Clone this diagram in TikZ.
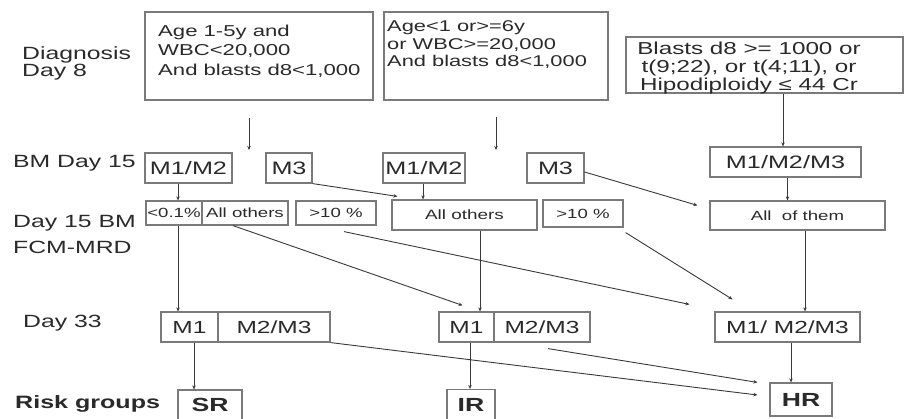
\documentclass[tikz,border=0pt]{standalone}
\usepackage{fontspec}
\setmainfont{Liberation Sans}[FakeStretch=1.4]
\usetikzlibrary{arrows.meta,calc}
\definecolor{txt}{HTML}{2A2A2A}
\definecolor{bx}{HTML}{7A7A7A}
\definecolor{ln}{HTML}{3A3A3A}
\newcommand{\fsz}[2]{\fontsize{#1}{#2}\selectfont}
\tikzset{
  box/.style={draw=bx, line width=1.2pt, inner sep=0pt, text=txt},
  lbl/.style={text=txt, inner sep=0pt, anchor=west, align=left},
  conn/.style={draw=ln, line width=0.9pt, -{Stealth[length=4pt,width=3.5pt]}},
}
\begin{document}
\begin{tikzpicture}[x=1pt,y=-1pt]
\path[use as bounding box, fill=white] (0,0) rectangle (912,419);

% row labels
\node[lbl, font=\fsz{17.7}{17}] (Ldiag) at (22,63) {Diagnosis\\Day 8};
\node[lbl, font=\fsz{17.7}{17}] (Lbm) at (13,163) {BM Day 15};
\node[lbl, font=\fsz{17.7}{26}] (Lfcm) at (13,234) {Day 15 BM\\FCM-MRD};
\node[lbl, font=\fsz{17.7}{17}] (Ld33) at (23,323) {Day 33};
\node[lbl, font=\fsz{17.9}{18}\bfseries] (Lrisk) at (15,404) {Risk groups};

% diagnosis boxes
\node[box, minimum width=228pt, minimum height=88pt] (b1) at (259,56) {};
\node[lbl, font=\fsz{15.8}{19.5}] (t1) at (158,51) {Age 1-5y and\\WBC<20,000\\And blasts d8<1,000};
\node[box, minimum width=224pt, minimum height=88pt] (b2) at (496,56) {};
\node[lbl, font=\fsz{15.6}{17.5}] (t2) at (387,45) {Age<1 or>=6y\\or WBC>=20,000\\And blasts d8<1,000};
\node[box, minimum width=277pt, minimum height=56pt] (b3) at (764.5,65) {};
\node[text=txt, inner sep=0pt, align=center, font=\fsz{17.3}{17.8}] (t3) at (749,68) {Blasts d8 >= 1000 or\\ t(9;22), or t(4;11), or\\Hipodiploidy ≤ 44 Cr};

% BM day 15
\node[box, minimum width=87pt, minimum height=30pt, font=\fsz{18}{18}] (m12a) at (188.5,168) {M1/M2};
\node[box, minimum width=46pt, minimum height=30pt, font=\fsz{18}{18}] (m3a) at (289,168) {M3};
\node[box, minimum width=82pt, minimum height=30pt, font=\fsz{18}{18}] (m12b) at (424,168) {M1/M2};
\node[box, minimum width=57pt, minimum height=30pt, font=\fsz{18}{18}] (m3b) at (555.5,168) {M3};
\node[box, minimum width=151pt, minimum height=30pt, font=\fsz{18}{18}] (m123) at (785.5,162) {M1/M2/M3};

% FCM-MRD
\node[box, minimum width=56pt, minimum height=24pt, font=\fsz{13.3}{13}] (lt01) at (174,213) {<0.1\%};
\node[box, minimum width=86pt, minimum height=24pt, font=\fsz{13.3}{13}] (aoA) at (245,213) {All others};
\node[box, minimum width=80pt, minimum height=24pt, font=\fsz{13.3}{13}] (gt10a) at (336,213) {>10 \%};
\node[box, minimum width=145pt, minimum height=30pt, font=\fsz{13.5}{13}] (aoB) at (464.5,215) {All others};
\node[box, minimum width=80pt, minimum height=27pt, font=\fsz{13.3}{13}] (gt10b) at (583,213.5) {>10 \%};
\node[box, minimum width=175pt, minimum height=29pt, font=\fsz{13.3}{13}] (aot) at (797.5,215.5) {All\ \ of them};

% Day 33
\node[box, minimum width=57pt, minimum height=30pt, font=\fsz{17.5}{18}] (d33a1) at (189.5,327) {M1};
\node[box, minimum width=112pt, minimum height=30pt, font=\fsz{17.5}{18}] (d33a2) at (274,327) {M2/M3};
\node[box, minimum width=55pt, minimum height=30pt, font=\fsz{17.5}{18}] (d33b1) at (466.5,327) {M1};
\node[box, minimum width=96pt, minimum height=30pt, font=\fsz{17.5}{18}] (d33b2) at (542,327) {M2/M3};
\node[box, minimum width=145pt, minimum height=30pt, font=\fsz{17.5}{18}] (d33c) at (787.5,327) {M1/ M2/M3};

% risk groups
\node[box, minimum width=64pt, minimum height=30pt, font=\fsz{19}{19}\bfseries] (SR) at (210,405) {SR};
\node[box, minimum width=48pt, minimum height=30pt, font=\fsz{19}{19}\bfseries] (IR) at (471,404.5) {IR};
\node[box, minimum width=62pt, minimum height=33pt, font=\fsz{19}{19}\bfseries] (HR) at (801,399.5) {HR};

% connector end points
\coordinate (a1s) at (249,118);
\coordinate (a1e) at (249,150);
\coordinate (a2s) at (496,117);
\coordinate (a2e) at (496,150);
\coordinate (p3) at ($(b3.south)+(18.5,0)$);
\coordinate (p4) at ($(m12a.south)+(-10.5,0)$);
\coordinate (p6) at ($(m12b.south)+(-1,0)$);
\coordinate (p8) at ($(m123.south)+(2,0)$);
\coordinate (p9) at ($(lt01.south)+(4,0)$);
\coordinate (p10) at ($(aoA.south)+(-12,0)$);
\coordinate (p11) at ($(gt10a.south)+(8,6)$);
\coordinate (p12) at ($(aoB.south)+(15.5,0)$);
\coordinate (p13) at ($(gt10b.south east)+(2,5)$);
\coordinate (p14) at ($(aot.south)+(7.5,0)$);
\coordinate (p15) at ($(d33a1.south)+(4.5,0)$);
\coordinate (p17) at ($(d33b1.south)+(3.5,0)$);
\coordinate (p18) at ($(d33b2.south)+(6,6)$);
\coordinate (p19) at ($(d33c.south)+(3.5,0)$);

% connectors
\draw[conn] (a1s) -- (a1e);
\draw[conn] (a2s) -- (a2e);
\draw[conn] (p3) -- (p3 |- m123.north);
\draw[conn] (p4) -- (p4 |- lt01.north);
\draw[conn] (m3a.south east) -- ($(aoB.north west)+(6,-3)$);
\draw[conn] (p6) -- (p6 |- aoB.north);
\draw[conn] ($(m3b.east)+(0,4)$) -- ($(aot.north west)+(-12,5)$);
\draw[conn] (p8) -- (p8 |- aot.north);
\draw[conn] (p9) -- (p9 |- d33a1.north);
\draw[conn] (p10) -- ($(d33b1.north)+(-4,-6)$);
\draw[conn] (p11) -- ($(d33c.north west)+(-25,-7)$);
\draw[conn] (p12) -- (p12 |- d33b1.north);
\draw[conn] (p13) -- ($(d33c.north)+(-55,-12)$);
\draw[conn] (p14) -- (p14 |- d33c.north);
\draw[conn] (p15) -- (p15 |- SR.north);
\draw[conn] (d33a2.south east) -- ($(HR.west)+(-12,-4.5)$);
\draw[conn] (p17) -- (p17 |- IR.north);
\draw[conn] (p18) -- ($(HR.north west)+(-12,0)$);
\draw[conn] (p19) -- (p19 |- HR.north);
\end{tikzpicture}
\end{document}
